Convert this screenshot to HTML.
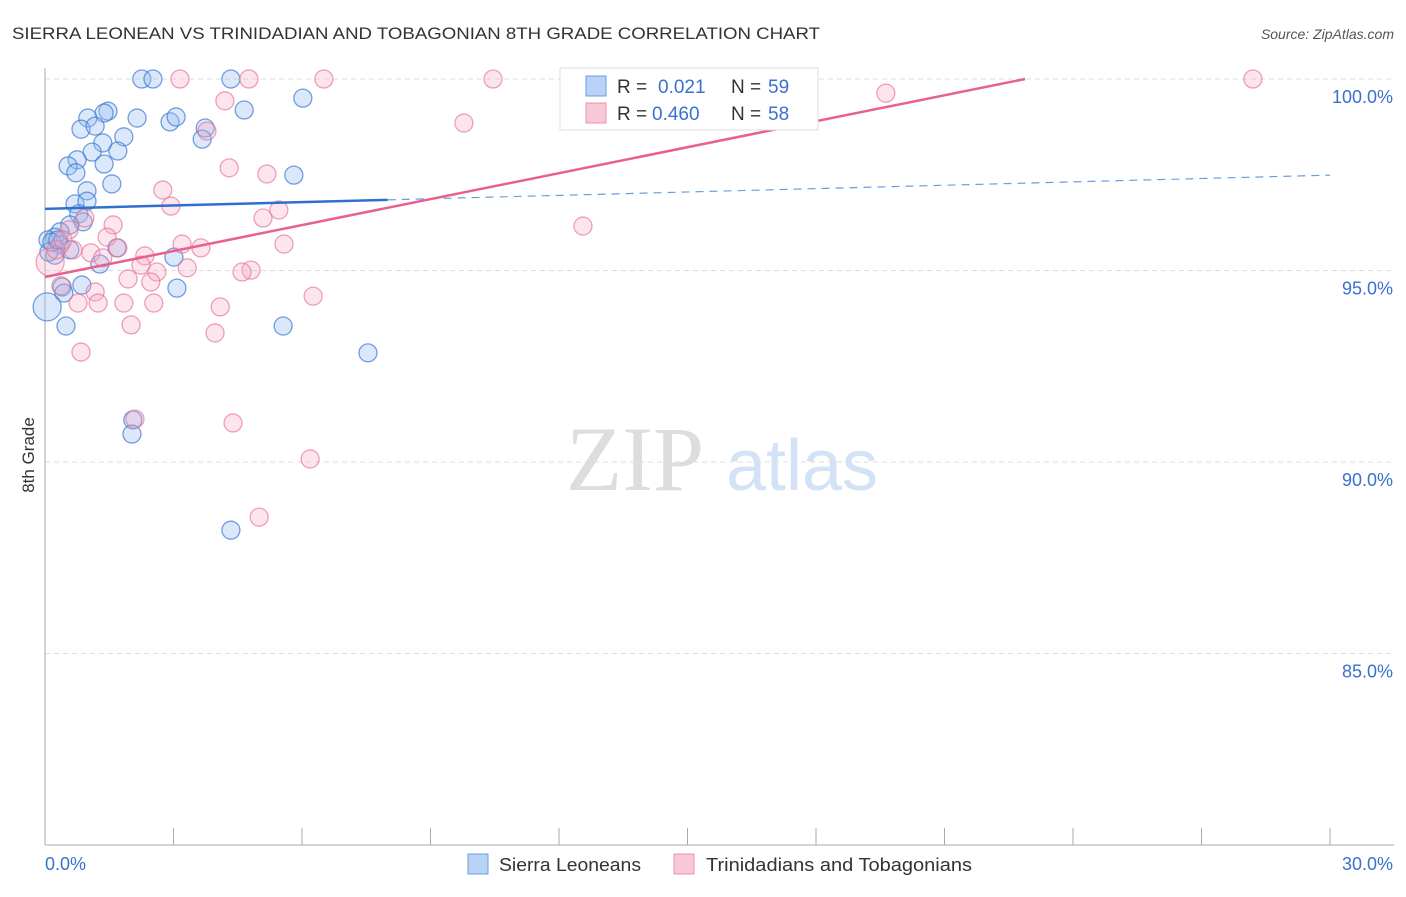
<!DOCTYPE html>
<html><head><meta charset="utf-8"><style>
body{margin:0;background:#fff;font-family:"Liberation Sans",sans-serif}
svg text{font-family:"Liberation Sans",sans-serif}
</style></head><body>
<svg id="c" width="1406" height="892">
<text x="12" y="39" font-size="17" fill="#333" textLength="808" lengthAdjust="spacingAndGlyphs">SIERRA LEONEAN VS TRINIDADIAN AND TOBAGONIAN 8TH GRADE CORRELATION CHART</text>
<text x="1394" y="39" font-size="14" fill="#555" font-style="italic" text-anchor="end">Source: ZipAtlas.com</text>
<g>
<text x="635" y="490" font-size="92" fill="#ddd" text-anchor="middle" font-family="Liberation Serif" style="font-family:'Liberation Serif',serif">ZIP</text>
<text x="802" y="490" font-size="72" fill="#d3e2f5" text-anchor="middle">atlas</text>
</g>
<g id="grid"></g><g id="axes"></g><g id="pts"></g><g id="lines"></g>
<text transform="translate(34,455) rotate(-90)" font-size="17" fill="#333" text-anchor="middle">8th Grade</text>
<g>
<rect x="560" y="68" width="258" height="62" fill="#fff" stroke="#ddd"/>
<rect x="586" y="76" width="20" height="20" fill="#b8d3f5" stroke="#6a9ee0"/>
<text x="617" y="93" font-size="19" fill="#333">R = </text><text x="658" y="93" font-size="19" fill="#3a70d0">0.021</text>
<text x="731" y="93" font-size="19" fill="#333">N = </text><text x="768" y="93" font-size="19" fill="#3a70d0">59</text>
<rect x="586" y="103" width="20" height="20" fill="#f8c8d6" stroke="#e890ab"/>
<text x="617" y="120" font-size="19" fill="#333">R = </text><text x="652" y="120" font-size="19" fill="#3a70d0">0.460</text>
<text x="731" y="120" font-size="19" fill="#333">N = </text><text x="768" y="120" font-size="19" fill="#3a70d0">58</text>
</g>
<g>
<rect x="468" y="854" width="20" height="20" fill="#b8d3f5" stroke="#6a9ee0"/>
<text x="499" y="871" font-size="18" fill="#333" textLength="142" lengthAdjust="spacingAndGlyphs">Sierra Leoneans</text>
<rect x="674" y="854" width="20" height="20" fill="#f8c8d6" stroke="#e890ab"/>
<text x="706" y="871" font-size="18" fill="#333" textLength="266" lengthAdjust="spacingAndGlyphs">Trinidadians and Tobagonians</text>
</g>
</svg>
<script>
const yTicks=[100,95,90,85];
const xTickLabels=["0.0%","30.0%"];
const blueX=[2.26,2.52,4.34,1.47,1.38,1.00,2.15,2.92,3.06,0.84,1.17,4.65,6.02,3.74,3.67,1.84,1.35,1.10,1.70,0.75,1.38,0.54,0.72,1.56,0.98,5.81,0.70,0.98,0.79,0.89,0.58,0.35,0.23,0.07,0.35,0.58,0.23,0.09,1.28,1.68,3.01,3.08,0.86,0.40,0.44,0.05,0.49,5.56,7.54,2.05,2.03,4.34,0.16,0.30];
const blueY=[100,100,100,99.16,99.11,98.98,98.98,98.88,99.01,98.69,98.77,99.19,99.50,98.72,98.43,98.49,98.33,98.09,98.12,97.89,97.78,97.73,97.55,97.26,97.08,97.49,96.74,96.81,96.48,96.27,96.19,96.01,95.87,95.80,95.67,95.54,95.40,95.48,95.17,95.59,95.35,94.54,94.62,94.57,94.41,94.05,93.55,93.55,92.85,91.10,90.73,88.22,95.74,95.80];
const pinkX=[3.15,4.76,6.51,10.46,28.20,19.63,4.20,3.78,9.78,4.30,5.18,2.75,2.94,5.46,5.09,12.56,0.93,1.59,0.56,1.45,1.70,1.07,0.65,1.35,3.20,3.64,5.58,2.33,2.24,3.32,2.61,1.94,2.47,4.81,4.60,0.37,1.17,0.77,1.24,1.84,2.54,6.26,4.09,2.01,3.97,0.84,2.10,4.39,6.19,5.00,0.12,0.26,0.42];
const pinkY=[100,100,100,100,100,99.63,99.43,98.64,98.85,97.68,97.52,97.10,96.68,96.58,96.37,96.16,96.37,96.19,96.06,95.87,95.59,95.46,95.54,95.33,95.69,95.59,95.69,95.38,95.14,95.07,94.96,94.78,94.70,95.01,94.96,94.60,94.44,94.15,94.15,94.15,94.15,94.33,94.05,93.58,93.37,92.87,91.12,91.02,90.08,88.56,95.22,95.54,95.80];
const blueFit=[96.61,97.49];
const pinkFit=[94.83,100.0,22.88];
const X=v=>45+v/30*1285, Y=v=>79+(100-v)*38.3;
const NS="http://www.w3.org/2000/svg";
function mk(p,t,a){const e=document.createElementNS(NS,t);for(const k in a)e.setAttribute(k,a[k]);p.appendChild(e);return e;}
const grid=document.getElementById('grid'),axes=document.getElementById('axes'),pts=document.getElementById('pts'),lines=document.getElementById('lines');
yTicks.forEach(t=>{
 const l=mk(grid,'line',{x1:45,x2:1394,y1:Y(t),y2:Y(t),stroke:'#ddd','stroke-dasharray':'5,4'});
 
 
 const tx=mk(grid,'text',{x:1393,y:Y(t)+24,'font-size':18,fill:'#3a70d0','text-anchor':'end'});
 tx.textContent=t.toFixed(1)+'%';
 
 
});
const ax=mk(axes,'line',{x1:45,x2:45,y1:68,y2:845,stroke:'#aaa'});


const bx=mk(axes,'line',{x1:45,x2:1394,y1:845,y2:845,stroke:'#aaa'});


for(let i=0;i<=10;i++){const x=X(i*3);const t=mk(axes,'line',{x1:x,x2:x,y1:828,y2:845,stroke:'#aaa'});
 
 }
[[0,'start'],[30,'end']].forEach((d,i)=>{const t=mk(axes,'text',{x:i?1393:45,y:870,'font-size':18,fill:'#3a70d0','text-anchor':d[1]});t.textContent=xTickLabels[i];
 
 });
function dots(xs,ys,f,s,name){xs.forEach((x,i)=>{const big=(x<0.13&&(ys[i]<94.2||ys[i]<95.3&&ys[i]>95.1));const c=mk(pts,'circle',{cx:X(x),cy:Y(ys[i]),r:big?14:9,fill:f,stroke:s,'stroke-width':1.3});
 
 });}
dots(blueX,blueY,'rgba(150,190,240,0.35)','rgba(60,120,210,0.7)','sierra-leonean-point');
dots(pinkX,pinkY,'rgba(245,170,195,0.3)','rgba(230,110,150,0.65)','trinidadian-point');
const bs=(blueFit[1]-blueFit[0])/30;
const b1=mk(lines,'line',{x1:X(0),y1:Y(blueFit[0]),x2:X(8),y2:Y(blueFit[0]+bs*8),stroke:'#2f6fd0','stroke-width':2.5});


const b2=mk(lines,'line',{x1:X(8),y1:Y(blueFit[0]+bs*8),x2:X(30),y2:Y(blueFit[1]),stroke:'#6a9ee0','stroke-width':1.2,'stroke-dasharray':'8,6'});


const p1=mk(lines,'line',{x1:X(0),y1:Y(pinkFit[0]),x2:X(pinkFit[2]),y2:Y(pinkFit[1]),stroke:'#e8608c','stroke-width':2.5});


</script>
</body></html>
